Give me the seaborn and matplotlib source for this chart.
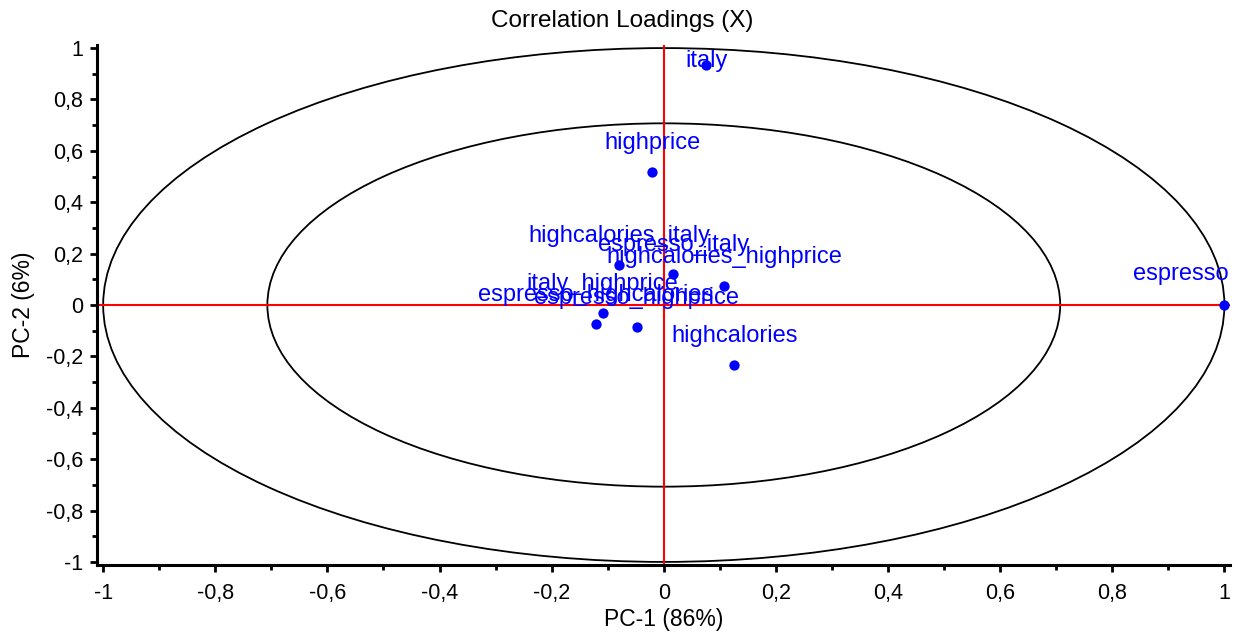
import numpy as np
import pandas as pd
import matplotlib.pyplot as plt
import seaborn as sns
from matplotlib.patches import Ellipse
from matplotlib.ticker import MultipleLocator, FuncFormatter

# Loadings
variables = ['italy', 'highprice', 'highcalories_italy', 'espresso_italy',
             'highcalories_highprice', 'espresso', 'highcalories',
             'italy_highprice', 'espresso_highcalories', 'espresso_highprice']
pc1 = [0.076, -0.021, -0.080, 0.017, 0.108, 1.000, 0.126, -0.109, -0.121, -0.048]
pc2 = [0.934, 0.518, 0.156, 0.121, 0.074, 0.000, -0.233, -0.030, -0.074, -0.084]

df = pd.DataFrame({'var': variables, 'PC1': pc1, 'PC2': pc2})

sns.set_style('ticks', {'axes.edgecolor': 'black', 'text.color': 'black',
                        'axes.labelcolor': 'black', 'xtick.color': 'black',
                        'ytick.color': 'black'})
plt.rcParams['font.family'] = ['Liberation Sans', 'DejaVu Sans']

fig = plt.figure(figsize=(12.38, 6.39), dpi=100)
ax = fig.add_axes([97 / 1238, 74 / 639, 1133 / 1238, 520 / 639])

# explained variance circles (100% and 50%)
for r in [1.0, np.sqrt(0.5)]:
    ax.add_patch(Ellipse((0, 0), 2 * r, 2 * r, fill=False, ec='black', lw=1.3, zorder=1))

ax.axhline(0, color='red', lw=1.5, zorder=2)
ax.axvline(0, color='red', lw=1.5, zorder=2)

sns.scatterplot(data=df, x='PC1', y='PC2', ax=ax, color='blue', s=55,
                edgecolor='blue', linewidth=0, zorder=3, legend=False)

# labels sit above their point; italy is pushed down near the top, espresso kept inside
for _, row in df.iterrows():
    dx, dy, ha = 0, 16.5, 'center'
    if row['var'] == 'italy':
        dy = -1.5
    if row['var'] == 'espresso':
        dx, dy, ha = 3, 18, 'right'
    ax.annotate(row['var'], (row['PC1'], row['PC2']), xytext=(dx, dy),
                textcoords='offset points', ha=ha, va='baseline',
                color='blue', fontsize=17, zorder=4)

ax.set_xlim(-1.011, 1.01)
ax.set_ylim(-1.012, 1.012)

ax.xaxis.set_major_locator(MultipleLocator(0.2))
ax.xaxis.set_minor_locator(MultipleLocator(0.1))
ax.yaxis.set_major_locator(MultipleLocator(0.2))
ax.yaxis.set_minor_locator(MultipleLocator(0.1))
fmt = FuncFormatter(lambda v, p: ('%g' % round(v, 2)).replace('.', ',') if abs(v) > 1e-9 else '0')
ax.xaxis.set_major_formatter(fmt)
ax.yaxis.set_major_formatter(fmt)

ax.tick_params(which='major', direction='out', length=5, width=2, labelsize=15.5)
ax.tick_params(axis='x', which='major', pad=8)
ax.tick_params(axis='y', which='major', pad=5)
ax.tick_params(which='minor', direction='out', length=3.5, width=2)

sns.despine(ax=ax)
for s in ['left', 'bottom']:
    ax.spines[s].set_linewidth(2.2)

ax.set_xlabel('PC-1 (86%)', fontsize=16.5, labelpad=3)
ax.set_ylabel('PC-2 (6%)', fontsize=16.5, labelpad=8)
fig.text(622 / 1238, 1 - 21 / 639, 'Correlation Loadings (X)', ha='center', va='center', fontsize=17.5)

fig.savefig('out.png', dpi=100)
